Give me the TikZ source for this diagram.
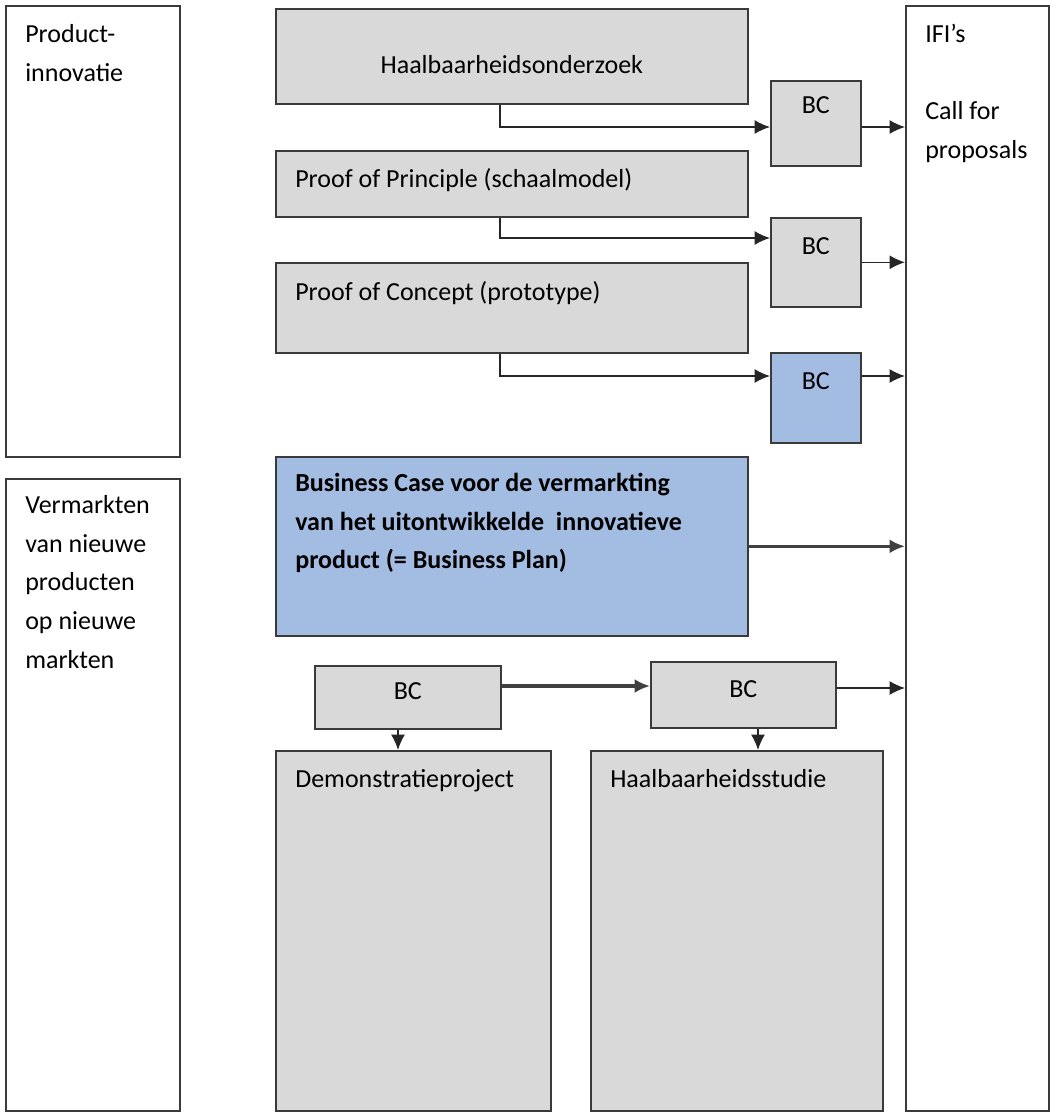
\documentclass[tikz,border=0pt]{standalone}
\usepackage{fontspec}
\setmainfont{Carlito}
\usepackage{xcolor}
\definecolor{boxgray}{HTML}{D9D9D9}
\definecolor{boxblue}{HTML}{A3BCE2}
\definecolor{boxline}{HTML}{3A3A3A}
\usetikzlibrary{arrows.meta,positioning}

\begin{document}
\begin{tikzpicture}[x=0.025cm,y=-0.025cm]
\tikzset{
 box/.style={draw=boxline,line width=1.1pt,anchor=north west,inner sep=0pt},
 g/.style={box,fill=boxgray},
 b/.style={box,fill=boxblue},
 t/.style={anchor=north west,inner sep=0pt,align=left,font=\fontsize{18.5}{27.5}\selectfont},
 a/.style={-{Latex[length=11pt,width=10pt]},line width=1pt,draw=black!85},
 ta/.style={-{Latex[length=11pt,width=10pt]},line width=2.4pt,draw=black!75}
}
\useasboundingbox (0,0) rectangle (1058,1118);
% columns left and right
\node[box,minimum width=4.35cm,minimum height=11.275cm] (prod) at (5,5) {};
\node[box,minimum width=4.35cm,minimum height=15.8cm] (verm) at (5,478) {};
\node[box,minimum width=3.575cm,minimum height=27.625cm] (ifi) at (905,5) {};
% product innovation stages
\node[g,minimum width=11.8cm,minimum height=2.375cm] (haal) at (275,8) {};
\node[g,minimum width=11.8cm,minimum height=1.65cm] (pop) at (275,150) {};
\node[g,minimum width=11.8cm,minimum height=2.25cm] (poc) at (275,262) {};
\node[g,minimum width=2.25cm,minimum height=2.125cm] (bc1) at (770,80) {};
\node[g,minimum width=2.25cm,minimum height=2.225cm] (bc2) at (770,217) {};
\node[b,minimum width=2.25cm,minimum height=2.25cm] (bc3) at (770,352) {};
\node[b,minimum width=11.8cm,minimum height=4.475cm] (plan) at (275,456) {};
% market stages
\node[g,minimum width=4.65cm,minimum height=1.575cm] (bc4) at (314,665) {};
\node[g,minimum width=4.625cm,minimum height=1.65cm] (bc5) at (650,661) {};
\node[g,minimum width=6.875cm,minimum height=9cm] (demo) at (275,750) {};
\node[g,minimum width=7.3cm,minimum height=9cm] (studie) at (590,750) {};

% texts
\node[t] (tprod) at ([shift={(20,19)}]prod.north west) {Product-\\innovatie};
\node[t] (tverm) at ([shift={(20,17)}]verm.north west) {Vermarkten\\van nieuwe\\producten\\op nieuwe\\markten};
\node[t] (tifi) at ([shift={(20,19)}]ifi.north west) {IFI’s\\[27.5pt]Call for\\proposals};
\node[t,anchor=north] (thaal) at ([shift={(0,47)}]haal.north) {Haalbaarheidsonderzoek};
\node[t] (tpop) at ([shift={(20,18)}]pop.north west) {Proof of Principle (schaalmodel)};
\node[t] (tpoc) at ([shift={(20,19)}]poc.north west) {Proof of Concept (prototype)};
\node[t,font=\fontsize{18.5}{27.5}\selectfont\bfseries] (tplan) at ([shift={(20,17)}]plan.north west)
 {Business Case voor de vermarkting\\van het uitontwikkelde\ \ innovatieve\\product (= Business Plan)};
\node[t,anchor=north] (tbc1) at ([shift={(0,16)}]bc1.north) {BC};
\node[t,anchor=north] (tbc2) at ([shift={(0,20)}]bc2.north) {BC};
\node[t,anchor=north] (tbc3) at ([shift={(0,20)}]bc3.north) {BC};
\node[t,anchor=north] (tbc4) at ([shift={(0,17)}]bc4.north) {BC};
\node[t,anchor=north] (tbc5) at ([shift={(0,19)}]bc5.north) {BC};
\node[t] (tdemo) at ([shift={(20,19)}]demo.north west) {Demonstratieproject};
\node[t] (tstudie) at ([shift={(20,19)}]studie.north west) {Haalbaarheidsstudie};

% connectors
\coordinate (k1) at (500,127);
\coordinate (k2) at (500,238);
\coordinate (k3) at (500,376);
\coordinate (k4) at (0,686);
\coordinate (k5) at (0,688);
\coordinate (k6) at (398,0);
\coordinate (k7) at (758,0);
\foreach \s/\b/\k in {haal/bc1/k1,pop/bc2/k2,poc/bc3/k3}{\draw[a] (\s.south -| \k) -- (\k) -- (\k -| \b.west);}
\draw[a] (bc1.east |- k1) -- (k1 -| ifi.west);
\draw[a] (bc2.east) -- (bc2.east -| ifi.west);
\draw[a] (bc3.east |- k3) -- (k3 -| ifi.west);
\draw[ta] (plan.east) -- (plan.east -| ifi.west);
\draw[ta] (bc4.east |- k4) -- (bc5.west |- k4);
\draw[a] (bc5.east |- k5) -- (ifi.west |- k5);
\draw[a] (bc4.south -| k6) -- (demo.north -| k6);
\draw[a] (bc5.south -| k7) -- (studie.north -| k7);
\end{tikzpicture}
\end{document}
